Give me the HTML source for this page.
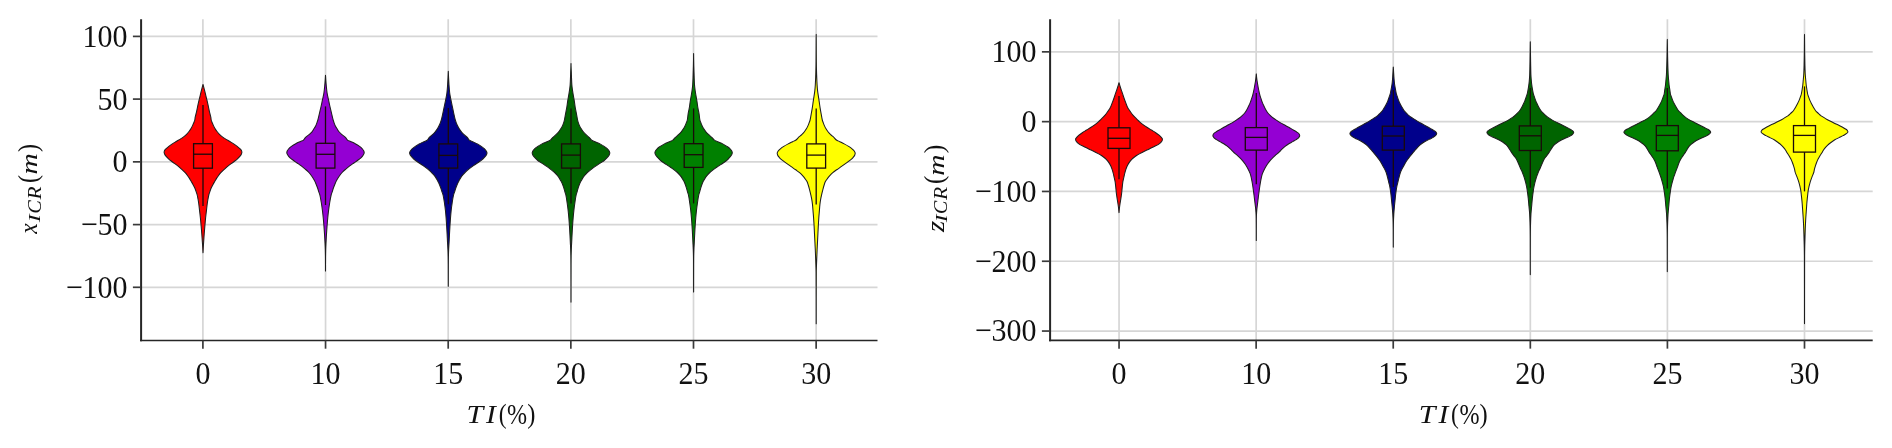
<!DOCTYPE html>
<html lang="en"><head><meta charset="utf-8"><title>ICR violin plots</title>
<style>html,body{margin:0;padding:0;background:#fff;overflow:hidden}svg{display:block;will-change:transform}.tk{font-family:"Liberation Serif","DejaVu Serif",serif;font-size:30px;fill:#111}.lb{font-family:"Liberation Serif","DejaVu Serif",serif;fill:#111}</style></head><body>
<svg width="1892" height="448" viewBox="0 0 1892 448">
<rect width="1892" height="448" fill="#ffffff"/>
<g stroke="#d6d6d6" stroke-width="1.7" fill="none">
<line x1="202.90" y1="19.20" x2="202.90" y2="340.50"/>
<line x1="325.55" y1="19.20" x2="325.55" y2="340.50"/>
<line x1="448.20" y1="19.20" x2="448.20" y2="340.50"/>
<line x1="570.85" y1="19.20" x2="570.85" y2="340.50"/>
<line x1="693.50" y1="19.20" x2="693.50" y2="340.50"/>
<line x1="816.15" y1="19.20" x2="816.15" y2="340.50"/>
<line x1="141.10" y1="36.40" x2="877.50" y2="36.40"/>
<line x1="141.10" y1="99.10" x2="877.50" y2="99.10"/>
<line x1="141.10" y1="161.85" x2="877.50" y2="161.85"/>
<line x1="141.10" y1="224.60" x2="877.50" y2="224.60"/>
<line x1="141.10" y1="287.30" x2="877.50" y2="287.30"/>
</g>
<path d="M203.00 84.50C202.73 85.47 202.46 86.43 202.20 87.40C201.89 88.57 201.59 89.73 201.30 90.90C200.85 92.70 200.44 94.50 200.00 96.30C199.71 97.50 199.39 98.70 199.10 99.90C198.61 101.97 198.15 104.03 197.70 106.10C197.25 108.20 196.87 110.30 196.40 112.40C196.00 114.17 195.39 115.93 195.10 117.70C194.97 118.47 194.95 119.23 194.80 120.00C194.64 120.82 194.22 121.63 193.90 122.45C193.51 123.43 193.10 124.42 192.65 125.40C192.21 126.37 191.75 127.33 191.20 128.30C190.63 129.30 189.94 130.30 189.20 131.30C188.49 132.27 187.74 133.23 186.80 134.20C185.83 135.20 184.67 136.20 183.30 137.20C182.21 138.00 180.72 138.80 179.40 139.60C178.35 140.23 177.25 140.87 176.20 141.50C174.88 142.30 173.50 143.10 172.30 143.90C171.05 144.73 169.88 145.57 168.80 146.40C167.76 147.20 166.64 148.00 165.90 148.80C165.29 149.47 164.60 150.13 164.40 150.80C164.25 151.30 164.10 151.80 164.10 152.30C164.10 152.93 164.43 153.57 164.70 154.20C165.05 155.03 165.72 155.87 166.40 156.70C167.05 157.50 167.91 158.30 168.80 159.10C169.88 160.07 171.23 161.03 172.50 162.00C174.21 163.30 176.19 164.60 177.80 165.90C179.21 167.03 180.47 168.17 181.70 169.30C182.93 170.43 184.18 171.57 185.20 172.70C186.10 173.70 186.86 174.70 187.60 175.70C188.32 176.67 189.00 177.63 189.60 178.60C190.22 179.60 190.71 180.60 191.30 181.60C191.75 182.37 192.27 183.13 192.70 183.90C193.43 185.20 194.14 186.50 194.70 187.80C195.28 189.13 195.75 190.47 196.20 191.80C196.56 192.87 196.94 193.93 197.20 195.00C197.53 196.33 197.76 197.67 198.00 199.00C198.24 200.33 198.46 201.67 198.65 203.00C199.00 205.53 199.25 208.07 199.55 210.60C199.84 213.07 200.15 215.53 200.40 218.00C200.68 220.75 200.91 223.50 201.15 226.25C201.38 228.83 201.60 231.42 201.80 234.00C202.00 236.63 202.17 239.27 202.35 241.90C202.49 243.93 202.63 245.97 202.75 248.00C202.84 249.60 202.93 251.20 203.00 252.80L203.00 252.80C203.07 251.20 203.16 249.60 203.25 248.00C203.37 245.97 203.51 243.93 203.65 241.90C203.83 239.27 204.00 236.63 204.20 234.00C204.40 231.42 204.62 228.83 204.85 226.25C205.09 223.50 205.32 220.75 205.60 218.00C205.85 215.53 206.16 213.07 206.45 210.60C206.75 208.07 207.00 205.53 207.35 203.00C207.54 201.67 207.76 200.33 208.00 199.00C208.24 197.67 208.47 196.33 208.80 195.00C209.06 193.93 209.44 192.87 209.80 191.80C210.25 190.47 210.72 189.13 211.30 187.80C211.86 186.50 212.57 185.20 213.30 183.90C213.73 183.13 214.25 182.37 214.70 181.60C215.29 180.60 215.78 179.60 216.40 178.60C217.00 177.63 217.68 176.67 218.40 175.70C219.14 174.70 219.90 173.70 220.80 172.70C221.82 171.57 223.07 170.43 224.30 169.30C225.53 168.17 226.79 167.03 228.20 165.90C229.81 164.60 231.79 163.30 233.50 162.00C234.77 161.03 236.12 160.07 237.20 159.10C238.09 158.30 238.95 157.50 239.60 156.70C240.28 155.87 240.95 155.03 241.30 154.20C241.57 153.57 241.90 152.93 241.90 152.30C241.90 151.80 241.75 151.30 241.60 150.80C241.40 150.13 240.71 149.47 240.10 148.80C239.36 148.00 238.24 147.20 237.20 146.40C236.12 145.57 234.95 144.73 233.70 143.90C232.50 143.10 231.12 142.30 229.80 141.50C228.75 140.87 227.65 140.23 226.60 139.60C225.28 138.80 223.79 138.00 222.70 137.20C221.33 136.20 220.17 135.20 219.20 134.20C218.26 133.23 217.51 132.27 216.80 131.30C216.06 130.30 215.37 129.30 214.80 128.30C214.25 127.33 213.79 126.37 213.35 125.40C212.90 124.42 212.49 123.43 212.10 122.45C211.78 121.63 211.36 120.82 211.20 120.00C211.05 119.23 211.03 118.47 210.90 117.70C210.61 115.93 210.00 114.17 209.60 112.40C209.13 110.30 208.75 108.20 208.30 106.10C207.85 104.03 207.39 101.97 206.90 99.90C206.61 98.70 206.29 97.50 206.00 96.30C205.56 94.50 205.15 92.70 204.70 90.90C204.41 89.73 204.11 88.57 203.80 87.40C203.54 86.43 203.27 85.47 203.00 84.50Z" fill="#ff0000" stroke="#1e1e1e" stroke-width="1.05" stroke-linejoin="round"/>
<g stroke="#1a0a0a" stroke-width="1.3" fill="none">
<line x1="203.00" y1="105.00" x2="203.00" y2="143.70"/>
<line x1="203.00" y1="168.20" x2="203.00" y2="206.00"/>
<rect x="193.60" y="143.70" width="18.80" height="24.50"/>
<line x1="193.60" y1="154.20" x2="212.40" y2="154.20"/>
</g>
<path d="M325.50 75.20C325.41 76.80 325.31 78.40 325.20 80.00C325.06 82.00 324.89 84.00 324.70 86.00C324.48 88.33 324.25 90.67 323.90 93.00C323.57 95.23 322.97 97.47 322.50 99.70C322.03 101.93 321.60 104.17 321.10 106.40C320.60 108.63 320.03 110.87 319.50 113.10C318.95 115.40 318.50 117.70 317.85 120.00C317.58 120.97 317.25 121.93 316.90 122.90C316.53 123.90 316.14 124.90 315.65 125.90C315.17 126.87 314.50 127.83 313.90 128.80C313.28 129.80 312.79 130.80 312.00 131.80C311.24 132.77 310.10 133.73 309.00 134.70C307.90 135.67 306.26 136.63 305.35 137.60C304.50 138.50 304.40 139.40 303.30 140.30C302.81 140.70 301.40 141.10 300.50 141.50C298.85 142.23 297.12 142.97 295.75 143.70C294.25 144.50 292.89 145.30 291.80 146.10C290.66 146.93 289.63 147.77 288.90 148.60C288.20 149.40 287.47 150.20 287.20 151.00C287.00 151.58 286.80 152.17 286.80 152.75C286.80 153.57 287.43 154.38 287.90 155.20C288.46 156.17 289.33 157.13 290.35 158.10C291.02 158.73 292.03 159.37 292.90 160.00C294.13 160.90 295.42 161.80 296.70 162.70C298.22 163.77 299.89 164.83 301.30 165.90C302.71 166.97 303.97 168.03 305.20 169.10C306.41 170.15 307.66 171.20 308.65 172.25C309.58 173.23 310.36 174.22 311.10 175.20C311.90 176.27 312.66 177.33 313.30 178.40C313.94 179.47 314.50 180.53 315.00 181.60C315.29 182.23 315.54 182.87 315.80 183.50C316.39 184.93 316.99 186.37 317.50 187.80C317.98 189.13 318.36 190.47 318.80 191.80C319.15 192.87 319.59 193.93 319.85 195.00C320.51 197.67 320.91 200.33 321.35 203.00C321.76 205.53 322.14 208.07 322.45 210.60C322.76 213.07 323.01 215.53 323.25 218.00C323.51 220.75 323.74 223.50 323.95 226.25C324.15 228.83 324.34 231.42 324.50 234.00C324.67 236.63 324.82 239.27 324.95 241.90C325.08 244.50 325.23 247.10 325.30 249.70C325.37 252.47 325.43 255.23 325.45 258.00C325.48 262.33 325.50 266.67 325.50 271.00L325.50 271.00C325.50 266.67 325.52 262.33 325.55 258.00C325.57 255.23 325.63 252.47 325.70 249.70C325.77 247.10 325.92 244.50 326.05 241.90C326.18 239.27 326.33 236.63 326.50 234.00C326.66 231.42 326.85 228.83 327.05 226.25C327.26 223.50 327.49 220.75 327.75 218.00C327.99 215.53 328.24 213.07 328.55 210.60C328.86 208.07 329.24 205.53 329.65 203.00C330.09 200.33 330.49 197.67 331.15 195.00C331.41 193.93 331.85 192.87 332.20 191.80C332.64 190.47 333.02 189.13 333.50 187.80C334.01 186.37 334.61 184.93 335.20 183.50C335.46 182.87 335.71 182.23 336.00 181.60C336.50 180.53 337.06 179.47 337.70 178.40C338.34 177.33 339.10 176.27 339.90 175.20C340.64 174.22 341.42 173.23 342.35 172.25C343.34 171.20 344.59 170.15 345.80 169.10C347.03 168.03 348.29 166.97 349.70 165.90C351.11 164.83 352.78 163.77 354.30 162.70C355.58 161.80 356.87 160.90 358.10 160.00C358.97 159.37 359.98 158.73 360.65 158.10C361.67 157.13 362.54 156.17 363.10 155.20C363.57 154.38 364.20 153.57 364.20 152.75C364.20 152.17 364.00 151.58 363.80 151.00C363.53 150.20 362.80 149.40 362.10 148.60C361.37 147.77 360.34 146.93 359.20 146.10C358.11 145.30 356.75 144.50 355.25 143.70C353.88 142.97 352.15 142.23 350.50 141.50C349.60 141.10 348.19 140.70 347.70 140.30C346.60 139.40 346.50 138.50 345.65 137.60C344.74 136.63 343.10 135.67 342.00 134.70C340.90 133.73 339.76 132.77 339.00 131.80C338.21 130.80 337.72 129.80 337.10 128.80C336.50 127.83 335.83 126.87 335.35 125.90C334.86 124.90 334.47 123.90 334.10 122.90C333.75 121.93 333.42 120.97 333.15 120.00C332.50 117.70 332.05 115.40 331.50 113.10C330.97 110.87 330.40 108.63 329.90 106.40C329.40 104.17 328.97 101.93 328.50 99.70C328.03 97.47 327.43 95.23 327.10 93.00C326.75 90.67 326.52 88.33 326.30 86.00C326.11 84.00 325.94 82.00 325.80 80.00C325.69 78.40 325.59 76.80 325.50 75.20Z" fill="#9400d3" stroke="#1e1e1e" stroke-width="1.05" stroke-linejoin="round"/>
<g stroke="#1a0a0a" stroke-width="1.3" fill="none">
<line x1="325.50" y1="106.40" x2="325.50" y2="143.30"/>
<line x1="325.50" y1="168.10" x2="325.50" y2="205.00"/>
<rect x="316.10" y="143.30" width="18.80" height="24.80"/>
<line x1="316.10" y1="154.30" x2="334.90" y2="154.30"/>
</g>
<path d="M448.30 71.20C448.21 73.47 448.11 75.73 448.00 78.00C447.88 80.33 447.76 82.67 447.60 85.00C447.42 87.67 447.22 90.33 446.90 93.00C446.63 95.23 446.13 97.47 445.70 99.70C445.27 101.93 444.77 104.17 444.30 106.40C443.83 108.63 443.39 110.87 442.90 113.10C442.39 115.40 441.96 117.70 441.30 120.00C441.02 120.97 440.67 121.93 440.30 122.90C439.89 123.97 439.43 125.03 438.90 126.10C438.41 127.10 437.84 128.10 437.20 129.10C436.62 130.00 435.94 130.90 435.20 131.80C434.40 132.77 433.50 133.73 432.50 134.70C431.50 135.67 429.94 136.63 429.10 137.60C428.35 138.47 428.26 139.33 427.30 140.20C426.75 140.70 425.10 141.20 424.00 141.70C422.39 142.43 420.54 143.17 419.20 143.90C417.68 144.73 416.50 145.57 415.30 146.40C414.15 147.20 412.88 148.00 412.10 148.80C411.29 149.63 410.59 150.47 410.20 151.30C409.93 151.87 409.60 152.43 409.60 153.00C409.60 153.73 410.03 154.47 410.40 155.20C410.80 156.00 411.66 156.80 412.40 157.60C413.17 158.43 413.99 159.27 415.00 160.10C415.95 160.88 417.25 161.67 418.40 162.45C419.84 163.43 421.39 164.42 422.80 165.40C424.33 166.47 425.86 167.53 427.20 168.60C428.54 169.67 429.80 170.73 430.90 171.80C431.90 172.77 432.79 173.73 433.60 174.70C434.41 175.67 435.17 176.63 435.80 177.60C436.45 178.60 436.96 179.60 437.50 180.60C438.02 181.57 438.56 182.53 439.00 183.50C439.65 184.93 440.19 186.37 440.70 187.80C441.18 189.13 441.56 190.47 442.00 191.80C442.35 192.87 442.80 193.93 443.05 195.00C443.69 197.67 444.05 200.33 444.45 203.00C444.83 205.53 445.18 208.07 445.45 210.60C445.71 213.07 445.91 215.53 446.10 218.00C446.31 220.75 446.48 223.50 446.65 226.25C446.81 228.83 446.96 231.42 447.10 234.00C447.24 236.63 447.36 239.27 447.50 241.90C447.64 244.50 447.84 247.10 447.95 249.70C448.05 252.13 448.14 254.57 448.18 257.00C448.22 259.67 448.25 262.33 448.26 265.00C448.29 272.10 448.30 279.20 448.30 286.30L448.30 286.30C448.30 279.20 448.31 272.10 448.34 265.00C448.35 262.33 448.38 259.67 448.42 257.00C448.46 254.57 448.55 252.13 448.65 249.70C448.76 247.10 448.96 244.50 449.10 241.90C449.24 239.27 449.36 236.63 449.50 234.00C449.64 231.42 449.79 228.83 449.95 226.25C450.12 223.50 450.29 220.75 450.50 218.00C450.69 215.53 450.89 213.07 451.15 210.60C451.42 208.07 451.77 205.53 452.15 203.00C452.55 200.33 452.91 197.67 453.55 195.00C453.80 193.93 454.25 192.87 454.60 191.80C455.04 190.47 455.42 189.13 455.90 187.80C456.41 186.37 456.95 184.93 457.60 183.50C458.04 182.53 458.58 181.57 459.10 180.60C459.64 179.60 460.15 178.60 460.80 177.60C461.43 176.63 462.19 175.67 463.00 174.70C463.81 173.73 464.70 172.77 465.70 171.80C466.80 170.73 468.06 169.67 469.40 168.60C470.74 167.53 472.27 166.47 473.80 165.40C475.21 164.42 476.76 163.43 478.20 162.45C479.35 161.67 480.65 160.88 481.60 160.10C482.61 159.27 483.43 158.43 484.20 157.60C484.94 156.80 485.80 156.00 486.20 155.20C486.57 154.47 487.00 153.73 487.00 153.00C487.00 152.43 486.67 151.87 486.40 151.30C486.01 150.47 485.31 149.63 484.50 148.80C483.72 148.00 482.45 147.20 481.30 146.40C480.10 145.57 478.92 144.73 477.40 143.90C476.06 143.17 474.21 142.43 472.60 141.70C471.50 141.20 469.85 140.70 469.30 140.20C468.34 139.33 468.25 138.47 467.50 137.60C466.66 136.63 465.10 135.67 464.10 134.70C463.10 133.73 462.20 132.77 461.40 131.80C460.66 130.90 459.98 130.00 459.40 129.10C458.76 128.10 458.19 127.10 457.70 126.10C457.17 125.03 456.71 123.97 456.30 122.90C455.93 121.93 455.58 120.97 455.30 120.00C454.64 117.70 454.21 115.40 453.70 113.10C453.21 110.87 452.77 108.63 452.30 106.40C451.83 104.17 451.33 101.93 450.90 99.70C450.47 97.47 449.97 95.23 449.70 93.00C449.38 90.33 449.18 87.67 449.00 85.00C448.84 82.67 448.72 80.33 448.60 78.00C448.49 75.73 448.39 73.47 448.30 71.20Z" fill="#00008b" stroke="#1e1e1e" stroke-width="1.05" stroke-linejoin="round"/>
<g stroke="#1a0a0a" stroke-width="1.3" fill="none">
<line x1="448.30" y1="108.00" x2="448.30" y2="143.90"/>
<line x1="448.30" y1="168.10" x2="448.30" y2="204.30"/>
<rect x="438.90" y="143.90" width="18.80" height="24.20"/>
<line x1="438.90" y1="155.40" x2="457.70" y2="155.40"/>
</g>
<path d="M571.00 63.50C570.99 65.00 570.95 66.50 570.90 68.00C570.86 69.33 570.76 70.67 570.70 72.00C570.62 73.77 570.57 75.53 570.50 77.30C570.40 79.77 570.32 82.23 570.15 84.70C570.01 86.77 569.69 88.83 569.40 90.90C569.15 92.70 568.80 94.50 568.50 96.30C568.20 98.07 567.87 99.83 567.60 101.60C567.27 103.70 567.05 105.80 566.70 107.90C566.36 109.97 565.89 112.03 565.50 114.10C565.13 116.07 564.85 118.03 564.40 120.00C564.18 120.97 563.92 121.93 563.60 122.90C563.27 123.90 562.87 124.90 562.40 125.90C561.95 126.87 561.35 127.83 560.75 128.80C560.13 129.80 559.49 130.80 558.70 131.80C557.94 132.77 557.00 133.73 556.00 134.70C555.00 135.67 553.55 136.63 552.60 137.60C551.75 138.47 551.51 139.33 550.40 140.20C549.76 140.70 548.13 141.20 547.00 141.70C545.34 142.43 543.42 143.17 542.00 143.90C540.38 144.73 539.04 145.57 537.80 146.40C536.61 147.20 535.38 148.00 534.60 148.80C533.79 149.63 533.04 150.47 532.70 151.30C532.47 151.87 532.20 152.43 532.20 153.00C532.20 153.73 532.56 154.47 532.90 155.20C533.27 156.00 534.17 156.80 534.90 157.60C535.78 158.57 536.63 159.53 537.80 160.50C538.77 161.30 540.19 162.10 541.40 162.90C543.02 163.97 544.75 165.03 546.30 166.10C547.85 167.17 549.30 168.23 550.70 169.30C551.99 170.28 553.36 171.27 554.40 172.25C555.44 173.23 556.28 174.22 557.10 175.20C557.90 176.17 558.67 177.13 559.30 178.10C559.95 179.10 560.47 180.10 561.00 181.10C561.42 181.90 561.85 182.70 562.20 183.50C562.82 184.93 563.35 186.37 563.80 187.80C564.22 189.13 564.52 190.47 564.90 191.80C565.20 192.87 565.62 193.93 565.85 195.00C566.43 197.67 566.76 200.33 567.15 203.00C567.52 205.53 567.87 208.07 568.15 210.60C568.42 213.07 568.65 215.53 568.85 218.00C569.08 220.75 569.27 223.50 569.45 226.25C569.62 228.83 569.76 231.42 569.90 234.00C570.04 236.63 570.17 239.27 570.30 241.90C570.43 244.50 570.61 247.10 570.70 249.70C570.79 252.13 570.87 254.57 570.90 257.00C570.93 259.67 570.95 262.33 570.96 265.00C570.99 277.37 571.00 289.73 571.00 302.10L571.00 302.10C571.00 289.73 571.01 277.37 571.04 265.00C571.05 262.33 571.07 259.67 571.10 257.00C571.13 254.57 571.21 252.13 571.30 249.70C571.39 247.10 571.57 244.50 571.70 241.90C571.83 239.27 571.96 236.63 572.10 234.00C572.24 231.42 572.38 228.83 572.55 226.25C572.73 223.50 572.92 220.75 573.15 218.00C573.35 215.53 573.58 213.07 573.85 210.60C574.13 208.07 574.48 205.53 574.85 203.00C575.24 200.33 575.57 197.67 576.15 195.00C576.38 193.93 576.80 192.87 577.10 191.80C577.48 190.47 577.78 189.13 578.20 187.80C578.65 186.37 579.18 184.93 579.80 183.50C580.15 182.70 580.58 181.90 581.00 181.10C581.53 180.10 582.05 179.10 582.70 178.10C583.33 177.13 584.10 176.17 584.90 175.20C585.72 174.22 586.56 173.23 587.60 172.25C588.64 171.27 590.01 170.28 591.30 169.30C592.70 168.23 594.15 167.17 595.70 166.10C597.25 165.03 598.98 163.97 600.60 162.90C601.81 162.10 603.23 161.30 604.20 160.50C605.37 159.53 606.22 158.57 607.10 157.60C607.83 156.80 608.73 156.00 609.10 155.20C609.44 154.47 609.80 153.73 609.80 153.00C609.80 152.43 609.53 151.87 609.30 151.30C608.96 150.47 608.21 149.63 607.40 148.80C606.62 148.00 605.39 147.20 604.20 146.40C602.96 145.57 601.62 144.73 600.00 143.90C598.58 143.17 596.66 142.43 595.00 141.70C593.87 141.20 592.24 140.70 591.60 140.20C590.49 139.33 590.25 138.47 589.40 137.60C588.45 136.63 587.00 135.67 586.00 134.70C585.00 133.73 584.06 132.77 583.30 131.80C582.51 130.80 581.87 129.80 581.25 128.80C580.65 127.83 580.05 126.87 579.60 125.90C579.13 124.90 578.73 123.90 578.40 122.90C578.08 121.93 577.82 120.97 577.60 120.00C577.15 118.03 576.87 116.07 576.50 114.10C576.11 112.03 575.64 109.97 575.30 107.90C574.95 105.80 574.73 103.70 574.40 101.60C574.13 99.83 573.80 98.07 573.50 96.30C573.20 94.50 572.85 92.70 572.60 90.90C572.31 88.83 571.99 86.77 571.85 84.70C571.68 82.23 571.60 79.77 571.50 77.30C571.43 75.53 571.38 73.77 571.30 72.00C571.24 70.67 571.14 69.33 571.10 68.00C571.05 66.50 571.01 65.00 571.00 63.50Z" fill="#006400" stroke="#1e1e1e" stroke-width="1.05" stroke-linejoin="round"/>
<g stroke="#1a0a0a" stroke-width="1.3" fill="none">
<line x1="571.00" y1="108.40" x2="571.00" y2="143.90"/>
<line x1="571.00" y1="168.10" x2="571.00" y2="203.60"/>
<rect x="561.60" y="143.90" width="18.80" height="24.20"/>
<line x1="561.60" y1="155.10" x2="580.40" y2="155.10"/>
</g>
<path d="M693.60 53.50C693.58 55.67 693.55 57.83 693.52 60.00C693.49 62.00 693.45 64.00 693.40 66.00C693.35 68.00 693.26 70.00 693.20 72.00C693.13 74.17 693.08 76.33 693.00 78.50C692.92 80.57 692.84 82.63 692.70 84.70C692.56 86.77 692.28 88.83 692.00 90.90C691.76 92.70 691.40 94.50 691.10 96.30C690.80 98.07 690.47 99.83 690.20 101.60C689.87 103.70 689.65 105.80 689.30 107.90C688.96 109.97 688.43 112.03 688.10 114.10C687.79 116.07 687.70 118.03 687.30 120.00C687.10 120.97 686.67 121.93 686.30 122.90C685.92 123.90 685.49 124.90 685.00 125.90C684.53 126.87 684.00 127.83 683.40 128.80C682.78 129.80 682.11 130.80 681.30 131.80C680.51 132.77 679.52 133.73 678.50 134.70C677.48 135.67 676.07 136.63 675.10 137.60C674.23 138.47 673.94 139.33 672.80 140.20C672.14 140.70 670.62 141.20 669.50 141.70C667.86 142.43 665.92 143.17 664.50 143.90C662.88 144.73 661.53 145.57 660.30 146.40C659.12 147.20 657.91 148.00 657.15 148.80C656.36 149.63 655.61 150.47 655.30 151.30C655.11 151.80 654.90 152.30 654.90 152.80C654.90 153.53 655.34 154.27 655.70 155.00C656.10 155.80 656.92 156.60 657.60 157.40C658.45 158.40 659.27 159.40 660.40 160.40C661.46 161.33 663.02 162.27 664.40 163.20C665.98 164.27 667.71 165.33 669.30 166.40C670.74 167.37 672.21 168.33 673.50 169.30C674.81 170.28 676.12 171.27 677.15 172.25C678.18 173.23 679.03 174.22 679.85 175.20C680.65 176.17 681.41 177.13 682.05 178.10C682.71 179.10 683.29 180.10 683.80 181.10C684.21 181.90 684.58 182.70 684.90 183.50C685.48 184.93 685.96 186.37 686.40 187.80C686.81 189.13 687.12 190.47 687.50 191.80C687.80 192.87 688.22 193.93 688.45 195.00C689.03 197.67 689.36 200.33 689.75 203.00C690.12 205.53 690.47 208.07 690.75 210.60C691.02 213.07 691.25 215.53 691.45 218.00C691.68 220.75 691.87 223.50 692.05 226.25C692.22 228.83 692.36 231.42 692.50 234.00C692.64 236.63 692.77 239.27 692.90 241.90C693.03 244.50 693.21 247.10 693.30 249.70C693.39 252.13 693.47 254.57 693.50 257.00C693.53 259.67 693.55 262.33 693.56 265.00C693.59 274.00 693.60 283.00 693.60 292.00L693.60 292.00C693.60 283.00 693.61 274.00 693.64 265.00C693.65 262.33 693.67 259.67 693.70 257.00C693.73 254.57 693.81 252.13 693.90 249.70C693.99 247.10 694.17 244.50 694.30 241.90C694.43 239.27 694.56 236.63 694.70 234.00C694.84 231.42 694.98 228.83 695.15 226.25C695.33 223.50 695.52 220.75 695.75 218.00C695.95 215.53 696.18 213.07 696.45 210.60C696.73 208.07 697.08 205.53 697.45 203.00C697.84 200.33 698.17 197.67 698.75 195.00C698.98 193.93 699.40 192.87 699.70 191.80C700.08 190.47 700.39 189.13 700.80 187.80C701.24 186.37 701.72 184.93 702.30 183.50C702.62 182.70 702.99 181.90 703.40 181.10C703.91 180.10 704.49 179.10 705.15 178.10C705.79 177.13 706.55 176.17 707.35 175.20C708.17 174.22 709.02 173.23 710.05 172.25C711.08 171.27 712.39 170.28 713.70 169.30C714.99 168.33 716.46 167.37 717.90 166.40C719.49 165.33 721.22 164.27 722.80 163.20C724.18 162.27 725.74 161.33 726.80 160.40C727.93 159.40 728.75 158.40 729.60 157.40C730.28 156.60 731.10 155.80 731.50 155.00C731.86 154.27 732.30 153.53 732.30 152.80C732.30 152.30 732.09 151.80 731.90 151.30C731.59 150.47 730.84 149.63 730.05 148.80C729.29 148.00 728.08 147.20 726.90 146.40C725.67 145.57 724.32 144.73 722.70 143.90C721.28 143.17 719.34 142.43 717.70 141.70C716.58 141.20 715.06 140.70 714.40 140.20C713.26 139.33 712.97 138.47 712.10 137.60C711.13 136.63 709.72 135.67 708.70 134.70C707.68 133.73 706.69 132.77 705.90 131.80C705.09 130.80 704.42 129.80 703.80 128.80C703.20 127.83 702.67 126.87 702.20 125.90C701.71 124.90 701.28 123.90 700.90 122.90C700.53 121.93 700.10 120.97 699.90 120.00C699.50 118.03 699.41 116.07 699.10 114.10C698.77 112.03 698.24 109.97 697.90 107.90C697.55 105.80 697.33 103.70 697.00 101.60C696.73 99.83 696.40 98.07 696.10 96.30C695.80 94.50 695.44 92.70 695.20 90.90C694.92 88.83 694.64 86.77 694.50 84.70C694.36 82.63 694.28 80.57 694.20 78.50C694.12 76.33 694.07 74.17 694.00 72.00C693.94 70.00 693.85 68.00 693.80 66.00C693.75 64.00 693.71 62.00 693.68 60.00C693.65 57.83 693.62 55.67 693.60 53.50Z" fill="#008000" stroke="#1e1e1e" stroke-width="1.05" stroke-linejoin="round"/>
<g stroke="#1a0a0a" stroke-width="1.3" fill="none">
<line x1="693.60" y1="108.40" x2="693.60" y2="143.70"/>
<line x1="693.60" y1="167.40" x2="693.60" y2="203.40"/>
<rect x="684.20" y="143.70" width="18.80" height="23.70"/>
<line x1="684.20" y1="154.70" x2="703.00" y2="154.70"/>
</g>
<path d="M816.20 34.40C816.18 37.93 816.17 41.47 816.15 45.00C816.13 48.33 816.12 51.67 816.10 55.00C816.08 58.67 816.05 62.33 816.00 66.00C815.97 68.00 815.91 70.00 815.85 72.00C815.81 73.43 815.76 74.87 815.70 76.30C815.59 79.20 815.48 82.10 815.30 85.00C815.18 86.97 815.01 88.93 814.80 90.90C814.61 92.70 814.27 94.50 814.00 96.30C813.74 98.07 813.46 99.83 813.20 101.60C812.89 103.70 812.63 105.80 812.30 107.90C811.97 109.97 811.58 112.03 811.20 114.10C810.84 116.07 810.59 118.03 810.10 120.00C809.86 120.97 809.46 121.93 809.10 122.90C808.73 123.90 808.35 124.90 807.90 125.90C807.46 126.87 806.96 127.83 806.40 128.80C805.82 129.80 805.17 130.80 804.40 131.80C803.65 132.77 802.75 133.73 801.75 134.70C800.75 135.67 799.32 136.63 798.30 137.60C797.45 138.40 797.06 139.20 796.00 140.00C795.25 140.57 793.73 141.13 792.60 141.70C791.13 142.43 789.57 143.17 788.20 143.90C786.64 144.73 785.11 145.57 783.80 146.40C782.55 147.20 781.34 148.00 780.40 148.80C779.54 149.53 778.66 150.27 778.20 151.00C777.74 151.73 777.20 152.47 777.20 153.20C777.20 153.87 777.46 154.53 777.70 155.20C777.99 156.00 778.71 156.80 779.40 157.60C780.12 158.43 781.19 159.27 782.20 160.10C783.33 161.03 784.63 161.97 785.90 162.90C787.48 164.07 789.14 165.23 790.80 166.40C792.41 167.53 794.12 168.67 795.70 169.80C797.04 170.77 798.49 171.73 799.60 172.70C800.75 173.70 801.69 174.70 802.60 175.70C803.48 176.67 804.29 177.63 805.00 178.60C805.74 179.60 806.52 180.60 807.00 181.60C807.54 182.73 807.89 183.87 808.25 185.00C808.77 186.63 809.18 188.27 809.60 189.90C810.02 191.53 810.44 193.17 810.80 194.80C811.16 196.43 811.53 198.07 811.80 199.70C812.07 201.33 812.33 202.97 812.50 204.60C812.71 206.60 812.84 208.60 813.00 210.60C813.20 213.07 813.43 215.53 813.60 218.00C813.79 220.67 813.95 223.33 814.10 226.00C814.25 228.67 814.37 231.33 814.50 234.00C814.63 236.67 814.77 239.33 814.90 242.00C815.03 244.67 815.18 247.33 815.30 250.00C815.41 252.50 815.50 255.00 815.60 257.50C815.70 260.00 815.82 262.50 815.90 265.00C815.98 267.33 816.09 269.67 816.10 272.00C816.18 289.27 816.20 306.53 816.20 323.80L816.20 323.80C816.20 306.53 816.22 289.27 816.30 272.00C816.31 269.67 816.42 267.33 816.50 265.00C816.58 262.50 816.70 260.00 816.80 257.50C816.90 255.00 816.99 252.50 817.10 250.00C817.22 247.33 817.37 244.67 817.50 242.00C817.63 239.33 817.77 236.67 817.90 234.00C818.03 231.33 818.15 228.67 818.30 226.00C818.45 223.33 818.61 220.67 818.80 218.00C818.97 215.53 819.20 213.07 819.40 210.60C819.56 208.60 819.69 206.60 819.90 204.60C820.07 202.97 820.33 201.33 820.60 199.70C820.87 198.07 821.24 196.43 821.60 194.80C821.96 193.17 822.38 191.53 822.80 189.90C823.22 188.27 823.63 186.63 824.15 185.00C824.51 183.87 824.86 182.73 825.40 181.60C825.88 180.60 826.66 179.60 827.40 178.60C828.11 177.63 828.92 176.67 829.80 175.70C830.71 174.70 831.65 173.70 832.80 172.70C833.91 171.73 835.36 170.77 836.70 169.80C838.28 168.67 839.99 167.53 841.60 166.40C843.26 165.23 844.92 164.07 846.50 162.90C847.77 161.97 849.07 161.03 850.20 160.10C851.21 159.27 852.28 158.43 853.00 157.60C853.69 156.80 854.41 156.00 854.70 155.20C854.94 154.53 855.20 153.87 855.20 153.20C855.20 152.47 854.66 151.73 854.20 151.00C853.74 150.27 852.86 149.53 852.00 148.80C851.06 148.00 849.85 147.20 848.60 146.40C847.29 145.57 845.76 144.73 844.20 143.90C842.83 143.17 841.27 142.43 839.80 141.70C838.67 141.13 837.15 140.57 836.40 140.00C835.34 139.20 834.95 138.40 834.10 137.60C833.08 136.63 831.65 135.67 830.65 134.70C829.65 133.73 828.75 132.77 828.00 131.80C827.23 130.80 826.58 129.80 826.00 128.80C825.44 127.83 824.94 126.87 824.50 125.90C824.05 124.90 823.67 123.90 823.30 122.90C822.94 121.93 822.54 120.97 822.30 120.00C821.81 118.03 821.56 116.07 821.20 114.10C820.82 112.03 820.43 109.97 820.10 107.90C819.77 105.80 819.51 103.70 819.20 101.60C818.94 99.83 818.66 98.07 818.40 96.30C818.13 94.50 817.79 92.70 817.60 90.90C817.39 88.93 817.22 86.97 817.10 85.00C816.92 82.10 816.81 79.20 816.70 76.30C816.64 74.87 816.59 73.43 816.55 72.00C816.49 70.00 816.43 68.00 816.40 66.00C816.35 62.33 816.32 58.67 816.30 55.00C816.28 51.67 816.27 48.33 816.25 45.00C816.23 41.47 816.22 37.93 816.20 34.40Z" fill="#ffff00" stroke="#1e1e1e" stroke-width="1.05" stroke-linejoin="round"/>
<g stroke="#1a0a0a" stroke-width="1.3" fill="none">
<line x1="816.20" y1="108.40" x2="816.20" y2="143.90"/>
<line x1="816.20" y1="168.10" x2="816.20" y2="204.50"/>
<rect x="806.80" y="143.90" width="18.80" height="24.20"/>
<line x1="806.80" y1="155.10" x2="825.60" y2="155.10"/>
</g>
<g stroke="#262626" fill="none">
<line stroke-width="2" x1="141.10" y1="19.20" x2="141.10" y2="341.35"/>
<line stroke-width="1.7" x1="140.10" y1="340.50" x2="877.50" y2="340.50"/>
</g>
<g stroke="#3a3a3a" stroke-width="1.7" fill="none">
<line x1="202.90" y1="340.50" x2="202.90" y2="348.70"/>
<line x1="325.55" y1="340.50" x2="325.55" y2="348.70"/>
<line x1="448.20" y1="340.50" x2="448.20" y2="348.70"/>
<line x1="570.85" y1="340.50" x2="570.85" y2="348.70"/>
<line x1="693.50" y1="340.50" x2="693.50" y2="348.70"/>
<line x1="816.15" y1="340.50" x2="816.15" y2="348.70"/>
<line x1="132.90" y1="36.40" x2="141.10" y2="36.40"/>
<line x1="132.90" y1="99.10" x2="141.10" y2="99.10"/>
<line x1="132.90" y1="161.85" x2="141.10" y2="161.85"/>
<line x1="132.90" y1="224.60" x2="141.10" y2="224.60"/>
<line x1="132.90" y1="287.30" x2="141.10" y2="287.30"/>
</g>
<text class="tk" transform="translate(202.90 384) scale(1 1.080)" text-anchor="middle">0</text>
<text class="tk" transform="translate(325.55 384) scale(1 1.080)" text-anchor="middle">10</text>
<text class="tk" transform="translate(448.20 384) scale(1 1.080)" text-anchor="middle">15</text>
<text class="tk" transform="translate(570.85 384) scale(1 1.080)" text-anchor="middle">20</text>
<text class="tk" transform="translate(693.50 384) scale(1 1.080)" text-anchor="middle">25</text>
<text class="tk" transform="translate(816.15 384) scale(1 1.080)" text-anchor="middle">30</text>
<text class="tk" transform="translate(127.60 46.80) scale(1 1.080)" text-anchor="end">100</text>
<text class="tk" transform="translate(127.60 109.50) scale(1 1.080)" text-anchor="end">50</text>
<text class="tk" transform="translate(127.60 172.25) scale(1 1.080)" text-anchor="end">0</text>
<text class="tk" transform="translate(127.60 235.00) scale(1 1.080)" text-anchor="end">−50</text>
<text class="tk" transform="translate(127.60 297.70) scale(1 1.080)" text-anchor="end">−100</text>
<g aria-label="TI(%)"><text class="lb" transform="translate(466.44 422.60) scale(1.177 1)" font-size="25.50px" font-style="italic">T</text><text class="lb" transform="translate(486.12 422.60) scale(1.158 1)" font-size="25.50px" font-style="italic">I</text><text class="lb" transform="translate(498.71 423.05) scale(0.858 1)" font-size="27.46px">(</text><text class="lb" transform="translate(507.08 423.72) scale(0.846 1)" font-size="28.46px">%</text><text class="lb" transform="translate(527.21 423.05) scale(0.893 1)" font-size="27.46px">)</text></g>
<g aria-label="xICR(m)"><text class="lb" transform="translate(37.30 233.81) rotate(-90) scale(0.977 1)" font-size="24.18px" font-style="italic">x</text><text class="lb" transform="translate(40.10 222.31) rotate(-90) scale(1.396 1)" font-size="16.95px" font-style="italic">I</text><text class="lb" transform="translate(40.53 213.40) rotate(-90) scale(1.082 1)" font-size="18.32px" font-style="italic">C</text><text class="lb" transform="translate(40.70 199.39) rotate(-90) scale(1.170 1)" font-size="18.25px" font-style="italic">R</text><text class="lb" transform="translate(37.15 182.96) rotate(-90) scale(0.893 1)" font-size="27.02px">(</text><text class="lb" transform="translate(37.30 174.57) rotate(-90) scale(1.252 1)" font-size="23.56px" font-style="italic">m</text><text class="lb" transform="translate(37.15 151.98) rotate(-90) scale(0.893 1)" font-size="27.02px">)</text></g>
<g stroke="#d6d6d6" stroke-width="1.7" fill="none">
<line x1="1119.05" y1="19.20" x2="1119.05" y2="340.45"/>
<line x1="1256.14" y1="19.20" x2="1256.14" y2="340.45"/>
<line x1="1393.23" y1="19.20" x2="1393.23" y2="340.45"/>
<line x1="1530.32" y1="19.20" x2="1530.32" y2="340.45"/>
<line x1="1667.41" y1="19.20" x2="1667.41" y2="340.45"/>
<line x1="1804.50" y1="19.20" x2="1804.50" y2="340.45"/>
<line x1="1050.10" y1="51.85" x2="1872.70" y2="51.85"/>
<line x1="1050.10" y1="121.65" x2="1872.70" y2="121.65"/>
<line x1="1050.10" y1="191.45" x2="1872.70" y2="191.45"/>
<line x1="1050.10" y1="261.25" x2="1872.70" y2="261.25"/>
<line x1="1050.10" y1="331.05" x2="1872.70" y2="331.05"/>
</g>
<path d="M1119.00 82.70C1118.80 83.37 1118.60 84.03 1118.40 84.70C1118.07 85.80 1117.76 86.90 1117.40 88.00C1117.03 89.13 1116.58 90.27 1116.20 91.40C1115.68 92.93 1115.22 94.47 1114.70 96.00C1114.25 97.33 1113.79 98.67 1113.30 100.00C1112.89 101.13 1112.44 102.27 1112.00 103.40C1111.54 104.57 1111.16 105.73 1110.60 106.90C1110.06 108.03 1109.33 109.17 1108.60 110.30C1107.87 111.43 1107.08 112.57 1106.20 113.70C1105.30 114.87 1104.28 116.03 1103.20 117.20C1102.46 118.00 1101.62 118.80 1100.80 119.60C1100.02 120.37 1099.27 121.13 1098.40 121.90C1097.38 122.80 1096.21 123.70 1095.00 124.60C1093.79 125.50 1092.48 126.40 1091.10 127.30C1089.72 128.20 1088.17 129.10 1086.70 130.00C1085.23 130.90 1083.63 131.80 1082.30 132.70C1081.07 133.53 1079.86 134.37 1078.90 135.20C1078.06 135.93 1077.29 136.67 1076.70 137.40C1076.27 137.93 1075.60 138.47 1075.60 139.00C1075.60 139.50 1075.69 140.00 1075.80 140.50C1075.92 141.03 1076.44 141.57 1076.90 142.10C1077.61 142.93 1078.62 143.77 1079.90 144.60C1080.87 145.23 1082.53 145.87 1083.80 146.50C1085.47 147.33 1086.96 148.17 1088.70 149.00C1090.23 149.73 1092.09 150.47 1093.60 151.20C1095.25 152.00 1096.77 152.80 1098.20 153.60C1099.33 154.23 1100.44 154.87 1101.40 155.50C1102.16 156.00 1102.87 156.50 1103.50 157.00C1104.52 157.80 1105.48 158.60 1106.25 159.40C1107.20 160.38 1108.03 161.37 1108.70 162.35C1109.49 163.50 1110.17 164.65 1110.70 165.80C1111.30 167.10 1111.77 168.40 1112.20 169.70C1112.58 170.83 1112.91 171.97 1113.20 173.10C1113.50 174.27 1113.74 175.43 1114.00 176.60C1114.39 178.37 1114.89 180.13 1115.15 181.90C1115.48 184.13 1115.66 186.37 1115.90 188.60C1116.09 190.40 1116.23 192.20 1116.45 194.00C1116.69 196.00 1117.04 198.00 1117.35 200.00C1117.56 201.33 1117.80 202.67 1118.00 204.00C1118.22 205.50 1118.43 207.00 1118.60 208.50C1118.75 209.87 1118.89 211.23 1119.00 212.60L1119.00 212.60C1119.11 211.23 1119.25 209.87 1119.40 208.50C1119.57 207.00 1119.78 205.50 1120.00 204.00C1120.20 202.67 1120.44 201.33 1120.65 200.00C1120.96 198.00 1121.31 196.00 1121.55 194.00C1121.77 192.20 1121.91 190.40 1122.10 188.60C1122.34 186.37 1122.52 184.13 1122.85 181.90C1123.11 180.13 1123.61 178.37 1124.00 176.60C1124.26 175.43 1124.50 174.27 1124.80 173.10C1125.09 171.97 1125.42 170.83 1125.80 169.70C1126.23 168.40 1126.70 167.10 1127.30 165.80C1127.83 164.65 1128.51 163.50 1129.30 162.35C1129.97 161.37 1130.80 160.38 1131.75 159.40C1132.52 158.60 1133.48 157.80 1134.50 157.00C1135.13 156.50 1135.84 156.00 1136.60 155.50C1137.56 154.87 1138.67 154.23 1139.80 153.60C1141.23 152.80 1142.75 152.00 1144.40 151.20C1145.91 150.47 1147.77 149.73 1149.30 149.00C1151.04 148.17 1152.53 147.33 1154.20 146.50C1155.47 145.87 1157.13 145.23 1158.10 144.60C1159.38 143.77 1160.39 142.93 1161.10 142.10C1161.56 141.57 1162.08 141.03 1162.20 140.50C1162.31 140.00 1162.40 139.50 1162.40 139.00C1162.40 138.47 1161.73 137.93 1161.30 137.40C1160.71 136.67 1159.94 135.93 1159.10 135.20C1158.14 134.37 1156.93 133.53 1155.70 132.70C1154.37 131.80 1152.77 130.90 1151.30 130.00C1149.83 129.10 1148.28 128.20 1146.90 127.30C1145.52 126.40 1144.21 125.50 1143.00 124.60C1141.79 123.70 1140.62 122.80 1139.60 121.90C1138.73 121.13 1137.98 120.37 1137.20 119.60C1136.38 118.80 1135.54 118.00 1134.80 117.20C1133.72 116.03 1132.70 114.87 1131.80 113.70C1130.92 112.57 1130.13 111.43 1129.40 110.30C1128.67 109.17 1127.94 108.03 1127.40 106.90C1126.84 105.73 1126.46 104.57 1126.00 103.40C1125.56 102.27 1125.11 101.13 1124.70 100.00C1124.21 98.67 1123.75 97.33 1123.30 96.00C1122.78 94.47 1122.32 92.93 1121.80 91.40C1121.42 90.27 1120.97 89.13 1120.60 88.00C1120.24 86.90 1119.93 85.80 1119.60 84.70C1119.40 84.03 1119.20 83.37 1119.00 82.70Z" fill="#ff0000" stroke="#1e1e1e" stroke-width="1.05" stroke-linejoin="round"/>
<g stroke="#1a0a0a" stroke-width="1.3" fill="none">
<line x1="1119.00" y1="96.10" x2="1119.00" y2="127.80"/>
<line x1="1119.00" y1="148.40" x2="1119.00" y2="179.20"/>
<rect x="1108.00" y="127.80" width="22.00" height="20.60"/>
<line x1="1108.00" y1="138.30" x2="1130.00" y2="138.30"/>
</g>
<path d="M1256.30 73.90C1256.19 75.27 1256.06 76.63 1255.90 78.00C1255.79 79.00 1255.65 80.00 1255.50 81.00C1255.32 82.23 1255.11 83.47 1254.90 84.70C1254.71 85.80 1254.51 86.90 1254.30 88.00C1254.08 89.13 1253.85 90.27 1253.60 91.40C1253.26 92.93 1252.94 94.47 1252.50 96.00C1252.22 96.97 1251.83 97.93 1251.50 98.90C1251.10 100.07 1250.75 101.23 1250.30 102.40C1249.86 103.53 1249.33 104.67 1248.80 105.80C1248.27 106.93 1247.73 108.07 1247.10 109.20C1246.45 110.37 1245.78 111.53 1244.90 112.70C1244.17 113.67 1243.20 114.63 1242.20 115.60C1241.37 116.40 1240.45 117.20 1239.40 118.00C1238.26 118.87 1236.83 119.73 1235.50 120.60C1234.22 121.43 1232.97 122.27 1231.55 123.10C1230.18 123.90 1228.54 124.70 1227.10 125.50C1225.59 126.33 1224.17 127.17 1222.70 128.00C1221.40 128.73 1220.04 129.47 1218.80 130.20C1217.72 130.83 1216.56 131.47 1215.70 132.10C1214.84 132.73 1213.84 133.37 1213.50 134.00C1213.20 134.57 1212.90 135.13 1212.90 135.70C1212.90 136.33 1213.43 136.97 1213.90 137.60C1214.39 138.27 1215.44 138.93 1216.40 139.60C1217.36 140.27 1218.64 140.93 1219.80 141.60C1221.08 142.33 1222.58 143.07 1223.75 143.80C1225.03 144.60 1226.18 145.40 1227.20 146.20C1228.47 147.20 1229.54 148.20 1230.60 149.20C1231.63 150.17 1232.46 151.13 1233.50 152.10C1234.34 152.88 1235.31 153.67 1236.20 154.45C1237.39 155.50 1238.63 156.55 1239.70 157.60C1240.78 158.67 1241.81 159.73 1242.70 160.80C1243.59 161.87 1244.37 162.93 1245.10 164.00C1245.83 165.07 1246.51 166.13 1247.10 167.20C1247.73 168.33 1248.25 169.47 1248.80 170.60C1249.28 171.60 1249.85 172.60 1250.20 173.60C1250.58 174.70 1250.85 175.80 1251.10 176.90C1251.45 178.43 1251.72 179.97 1252.00 181.50C1252.27 183.00 1252.52 184.50 1252.75 186.00C1253.00 187.63 1253.23 189.27 1253.45 190.90C1253.67 192.53 1253.89 194.17 1254.10 195.80C1254.31 197.43 1254.50 199.07 1254.70 200.70C1254.90 202.33 1255.10 203.97 1255.30 205.60C1255.40 206.40 1255.52 207.20 1255.60 208.00C1255.74 209.33 1255.86 210.67 1255.95 212.00C1256.04 213.33 1256.15 214.67 1256.18 216.00C1256.23 218.00 1256.25 220.00 1256.26 222.00C1256.29 228.13 1256.30 234.27 1256.30 240.40L1256.30 240.40C1256.30 234.27 1256.31 228.13 1256.34 222.00C1256.35 220.00 1256.37 218.00 1256.42 216.00C1256.45 214.67 1256.56 213.33 1256.65 212.00C1256.74 210.67 1256.86 209.33 1257.00 208.00C1257.08 207.20 1257.20 206.40 1257.30 205.60C1257.50 203.97 1257.70 202.33 1257.90 200.70C1258.10 199.07 1258.29 197.43 1258.50 195.80C1258.71 194.17 1258.93 192.53 1259.15 190.90C1259.37 189.27 1259.60 187.63 1259.85 186.00C1260.08 184.50 1260.33 183.00 1260.60 181.50C1260.88 179.97 1261.15 178.43 1261.50 176.90C1261.75 175.80 1262.02 174.70 1262.40 173.60C1262.75 172.60 1263.32 171.60 1263.80 170.60C1264.35 169.47 1264.87 168.33 1265.50 167.20C1266.09 166.13 1266.77 165.07 1267.50 164.00C1268.23 162.93 1269.01 161.87 1269.90 160.80C1270.79 159.73 1271.82 158.67 1272.90 157.60C1273.97 156.55 1275.21 155.50 1276.40 154.45C1277.29 153.67 1278.26 152.88 1279.10 152.10C1280.14 151.13 1280.97 150.17 1282.00 149.20C1283.06 148.20 1284.13 147.20 1285.40 146.20C1286.42 145.40 1287.57 144.60 1288.85 143.80C1290.02 143.07 1291.52 142.33 1292.80 141.60C1293.96 140.93 1295.24 140.27 1296.20 139.60C1297.16 138.93 1298.21 138.27 1298.70 137.60C1299.17 136.97 1299.70 136.33 1299.70 135.70C1299.70 135.13 1299.40 134.57 1299.10 134.00C1298.76 133.37 1297.76 132.73 1296.90 132.10C1296.04 131.47 1294.88 130.83 1293.80 130.20C1292.56 129.47 1291.20 128.73 1289.90 128.00C1288.43 127.17 1287.01 126.33 1285.50 125.50C1284.06 124.70 1282.42 123.90 1281.05 123.10C1279.63 122.27 1278.38 121.43 1277.10 120.60C1275.77 119.73 1274.34 118.87 1273.20 118.00C1272.15 117.20 1271.23 116.40 1270.40 115.60C1269.40 114.63 1268.43 113.67 1267.70 112.70C1266.82 111.53 1266.15 110.37 1265.50 109.20C1264.87 108.07 1264.33 106.93 1263.80 105.80C1263.27 104.67 1262.74 103.53 1262.30 102.40C1261.85 101.23 1261.50 100.07 1261.10 98.90C1260.77 97.93 1260.38 96.97 1260.10 96.00C1259.66 94.47 1259.34 92.93 1259.00 91.40C1258.75 90.27 1258.52 89.13 1258.30 88.00C1258.09 86.90 1257.89 85.80 1257.70 84.70C1257.49 83.47 1257.28 82.23 1257.10 81.00C1256.95 80.00 1256.81 79.00 1256.70 78.00C1256.54 76.63 1256.41 75.27 1256.30 73.90Z" fill="#9400d3" stroke="#1e1e1e" stroke-width="1.05" stroke-linejoin="round"/>
<g stroke="#1a0a0a" stroke-width="1.3" fill="none">
<line x1="1256.30" y1="93.00" x2="1256.30" y2="127.60"/>
<line x1="1256.30" y1="150.10" x2="1256.30" y2="184.20"/>
<rect x="1245.30" y="127.60" width="22.00" height="22.50"/>
<line x1="1245.30" y1="137.40" x2="1267.30" y2="137.40"/>
</g>
<path d="M1393.30 67.00C1393.20 68.67 1393.10 70.33 1393.00 72.00C1392.90 73.67 1392.82 75.33 1392.70 77.00C1392.59 78.57 1392.46 80.13 1392.30 81.70C1392.19 82.80 1392.06 83.90 1391.90 85.00C1391.74 86.13 1391.51 87.27 1391.30 88.40C1391.14 89.27 1390.97 90.13 1390.80 91.00C1390.60 92.00 1390.45 93.00 1390.20 94.00C1389.95 94.97 1389.53 95.93 1389.20 96.90C1388.80 98.07 1388.45 99.23 1388.00 100.40C1387.56 101.53 1387.06 102.67 1386.50 103.80C1385.94 104.93 1385.27 106.07 1384.60 107.20C1383.91 108.37 1383.28 109.53 1382.40 110.70C1381.67 111.67 1380.63 112.63 1379.70 113.60C1379.06 114.27 1378.47 114.93 1377.70 115.60C1377.20 116.03 1376.57 116.47 1375.95 116.90C1374.89 117.63 1373.65 118.37 1372.50 119.10C1371.19 119.93 1369.95 120.77 1368.55 121.60C1367.32 122.33 1365.93 123.07 1364.60 123.80C1363.15 124.60 1361.64 125.40 1360.20 126.20C1358.88 126.93 1357.57 127.67 1356.30 128.40C1355.14 129.07 1353.92 129.73 1352.90 130.40C1352.14 130.90 1351.22 131.40 1350.80 131.90C1350.38 132.40 1349.90 132.90 1349.90 133.40C1349.90 134.07 1350.42 134.73 1350.90 135.40C1351.37 136.05 1352.39 136.70 1353.40 137.35C1354.30 137.93 1355.63 138.52 1356.80 139.10C1358.07 139.73 1359.61 140.37 1360.75 141.00C1362.26 141.83 1363.57 142.67 1364.70 143.50C1366.01 144.47 1367.11 145.43 1368.10 146.40C1369.12 147.40 1369.92 148.40 1370.80 149.40C1371.45 150.13 1372.07 150.87 1372.70 151.60C1373.07 152.03 1373.44 152.47 1373.80 152.90C1374.78 154.07 1375.79 155.23 1376.70 156.40C1377.58 157.53 1378.42 158.67 1379.20 159.80C1379.98 160.93 1380.73 162.07 1381.40 163.20C1382.09 164.37 1382.67 165.53 1383.30 166.70C1383.91 167.83 1384.54 168.97 1385.10 170.10C1385.42 170.73 1385.76 171.37 1386.00 172.00C1386.39 173.00 1386.67 174.00 1386.95 175.00C1387.28 176.17 1387.56 177.33 1387.85 178.50C1388.20 179.93 1388.51 181.37 1388.85 182.80C1389.14 184.03 1389.50 185.27 1389.75 186.50C1390.03 187.87 1390.25 189.23 1390.45 190.60C1390.64 191.90 1390.80 193.20 1390.95 194.50C1391.10 195.80 1391.22 197.10 1391.35 198.40C1391.62 201.02 1391.91 203.63 1392.15 206.25C1392.39 208.83 1392.65 211.42 1392.80 214.00C1392.95 216.67 1393.09 219.33 1393.15 222.00C1393.21 224.67 1393.25 227.33 1393.26 230.00C1393.28 235.70 1393.30 241.40 1393.30 247.10L1393.30 247.10C1393.30 241.40 1393.32 235.70 1393.34 230.00C1393.35 227.33 1393.39 224.67 1393.45 222.00C1393.51 219.33 1393.65 216.67 1393.80 214.00C1393.95 211.42 1394.21 208.83 1394.45 206.25C1394.69 203.63 1394.98 201.02 1395.25 198.40C1395.38 197.10 1395.50 195.80 1395.65 194.50C1395.80 193.20 1395.96 191.90 1396.15 190.60C1396.35 189.23 1396.57 187.87 1396.85 186.50C1397.10 185.27 1397.46 184.03 1397.75 182.80C1398.09 181.37 1398.40 179.93 1398.75 178.50C1399.04 177.33 1399.32 176.17 1399.65 175.00C1399.93 174.00 1400.21 173.00 1400.60 172.00C1400.84 171.37 1401.18 170.73 1401.50 170.10C1402.06 168.97 1402.69 167.83 1403.30 166.70C1403.93 165.53 1404.51 164.37 1405.20 163.20C1405.87 162.07 1406.62 160.93 1407.40 159.80C1408.18 158.67 1409.02 157.53 1409.90 156.40C1410.81 155.23 1411.82 154.07 1412.80 152.90C1413.16 152.47 1413.53 152.03 1413.90 151.60C1414.53 150.87 1415.15 150.13 1415.80 149.40C1416.68 148.40 1417.48 147.40 1418.50 146.40C1419.49 145.43 1420.59 144.47 1421.90 143.50C1423.03 142.67 1424.34 141.83 1425.85 141.00C1426.99 140.37 1428.53 139.73 1429.80 139.10C1430.97 138.52 1432.30 137.93 1433.20 137.35C1434.21 136.70 1435.23 136.05 1435.70 135.40C1436.18 134.73 1436.70 134.07 1436.70 133.40C1436.70 132.90 1436.22 132.40 1435.80 131.90C1435.38 131.40 1434.46 130.90 1433.70 130.40C1432.68 129.73 1431.46 129.07 1430.30 128.40C1429.03 127.67 1427.72 126.93 1426.40 126.20C1424.96 125.40 1423.45 124.60 1422.00 123.80C1420.67 123.07 1419.28 122.33 1418.05 121.60C1416.65 120.77 1415.41 119.93 1414.10 119.10C1412.95 118.37 1411.71 117.63 1410.65 116.90C1410.03 116.47 1409.40 116.03 1408.90 115.60C1408.13 114.93 1407.54 114.27 1406.90 113.60C1405.97 112.63 1404.93 111.67 1404.20 110.70C1403.32 109.53 1402.69 108.37 1402.00 107.20C1401.33 106.07 1400.66 104.93 1400.10 103.80C1399.54 102.67 1399.04 101.53 1398.60 100.40C1398.15 99.23 1397.80 98.07 1397.40 96.90C1397.07 95.93 1396.65 94.97 1396.40 94.00C1396.15 93.00 1396.00 92.00 1395.80 91.00C1395.63 90.13 1395.46 89.27 1395.30 88.40C1395.09 87.27 1394.86 86.13 1394.70 85.00C1394.54 83.90 1394.41 82.80 1394.30 81.70C1394.14 80.13 1394.01 78.57 1393.90 77.00C1393.78 75.33 1393.70 73.67 1393.60 72.00C1393.50 70.33 1393.40 68.67 1393.30 67.00Z" fill="#00008b" stroke="#1e1e1e" stroke-width="1.05" stroke-linejoin="round"/>
<g stroke="#1a0a0a" stroke-width="1.3" fill="none">
<line x1="1393.30" y1="90.00" x2="1393.30" y2="126.20"/>
<line x1="1393.30" y1="150.10" x2="1393.30" y2="187.00"/>
<rect x="1382.30" y="126.20" width="22.00" height="23.90"/>
<line x1="1382.30" y1="136.00" x2="1404.30" y2="136.00"/>
</g>
<path d="M1530.30 41.70C1530.25 45.13 1530.20 48.57 1530.15 52.00C1530.10 55.27 1530.05 58.53 1530.00 61.80C1529.95 64.53 1529.91 67.27 1529.85 70.00C1529.81 71.67 1529.77 73.33 1529.70 75.00C1529.61 77.23 1529.41 79.47 1529.20 81.70C1529.10 82.80 1528.95 83.90 1528.80 85.00C1528.65 86.13 1528.49 87.27 1528.30 88.40C1528.15 89.27 1527.97 90.13 1527.80 91.00C1527.60 92.00 1527.45 93.00 1527.20 94.00C1526.95 94.97 1526.53 95.93 1526.20 96.90C1525.80 98.07 1525.45 99.23 1525.00 100.40C1524.56 101.53 1524.03 102.67 1523.50 103.80C1522.97 104.93 1522.43 106.07 1521.80 107.20C1521.15 108.37 1520.48 109.53 1519.60 110.70C1518.87 111.67 1517.86 112.63 1516.90 113.60C1516.24 114.27 1515.55 114.93 1514.80 115.60C1514.22 116.12 1513.64 116.63 1512.95 117.15C1511.96 117.88 1510.71 118.62 1509.50 119.35C1508.26 120.10 1506.96 120.85 1505.55 121.60C1504.17 122.33 1502.57 123.07 1501.10 123.80C1499.63 124.53 1498.19 125.27 1496.70 126.00C1495.42 126.63 1494.02 127.27 1492.80 127.90C1491.78 128.43 1490.76 128.97 1489.90 129.50C1489.09 130.00 1488.11 130.50 1487.70 131.00C1487.32 131.47 1486.90 131.93 1486.90 132.40C1486.90 132.98 1487.43 133.57 1487.90 134.15C1488.42 134.80 1489.49 135.45 1490.60 136.10C1491.56 136.67 1493.06 137.23 1494.30 137.80C1495.76 138.47 1497.38 139.13 1498.70 139.80C1500.15 140.53 1501.55 141.27 1502.65 142.00C1504.00 142.90 1505.19 143.80 1506.10 144.70C1507.07 145.67 1507.81 146.63 1508.50 147.60C1509.07 148.40 1509.50 149.20 1510.00 150.00C1510.50 150.80 1510.97 151.60 1511.50 152.40C1512.27 153.57 1513.14 154.73 1514.00 155.90C1514.71 156.87 1515.61 157.83 1516.20 158.80C1516.89 159.93 1517.38 161.07 1517.90 162.20C1518.44 163.37 1518.91 164.53 1519.40 165.70C1519.88 166.83 1520.27 167.97 1520.80 169.10C1521.10 169.73 1521.51 170.37 1521.80 171.00C1522.41 172.33 1522.87 173.67 1523.35 175.00C1523.77 176.17 1524.19 177.33 1524.55 178.50C1524.99 179.93 1525.40 181.37 1525.75 182.80C1526.05 184.03 1526.31 185.27 1526.55 186.50C1526.81 187.87 1527.05 189.23 1527.25 190.60C1527.64 193.20 1527.98 195.80 1528.25 198.40C1528.53 201.02 1528.72 203.63 1528.95 206.25C1529.18 208.83 1529.50 211.42 1529.65 214.00C1529.81 216.63 1529.92 219.27 1530.00 221.90C1530.09 224.60 1530.17 227.30 1530.20 230.00C1530.23 232.67 1530.25 235.33 1530.26 238.00C1530.29 250.20 1530.30 262.40 1530.30 274.60L1530.30 274.60C1530.30 262.40 1530.31 250.20 1530.34 238.00C1530.35 235.33 1530.37 232.67 1530.40 230.00C1530.43 227.30 1530.51 224.60 1530.60 221.90C1530.68 219.27 1530.79 216.63 1530.95 214.00C1531.10 211.42 1531.42 208.83 1531.65 206.25C1531.88 203.63 1532.07 201.02 1532.35 198.40C1532.62 195.80 1532.96 193.20 1533.35 190.60C1533.55 189.23 1533.79 187.87 1534.05 186.50C1534.29 185.27 1534.55 184.03 1534.85 182.80C1535.20 181.37 1535.61 179.93 1536.05 178.50C1536.41 177.33 1536.83 176.17 1537.25 175.00C1537.73 173.67 1538.19 172.33 1538.80 171.00C1539.09 170.37 1539.50 169.73 1539.80 169.10C1540.33 167.97 1540.72 166.83 1541.20 165.70C1541.69 164.53 1542.16 163.37 1542.70 162.20C1543.22 161.07 1543.71 159.93 1544.40 158.80C1544.99 157.83 1545.89 156.87 1546.60 155.90C1547.46 154.73 1548.33 153.57 1549.10 152.40C1549.63 151.60 1550.10 150.80 1550.60 150.00C1551.10 149.20 1551.53 148.40 1552.10 147.60C1552.79 146.63 1553.53 145.67 1554.50 144.70C1555.41 143.80 1556.60 142.90 1557.95 142.00C1559.05 141.27 1560.45 140.53 1561.90 139.80C1563.22 139.13 1564.84 138.47 1566.30 137.80C1567.54 137.23 1569.04 136.67 1570.00 136.10C1571.11 135.45 1572.18 134.80 1572.70 134.15C1573.17 133.57 1573.70 132.98 1573.70 132.40C1573.70 131.93 1573.28 131.47 1572.90 131.00C1572.49 130.50 1571.51 130.00 1570.70 129.50C1569.84 128.97 1568.82 128.43 1567.80 127.90C1566.58 127.27 1565.18 126.63 1563.90 126.00C1562.41 125.27 1560.97 124.53 1559.50 123.80C1558.03 123.07 1556.43 122.33 1555.05 121.60C1553.64 120.85 1552.34 120.10 1551.10 119.35C1549.89 118.62 1548.64 117.88 1547.65 117.15C1546.96 116.63 1546.38 116.12 1545.80 115.60C1545.05 114.93 1544.36 114.27 1543.70 113.60C1542.74 112.63 1541.73 111.67 1541.00 110.70C1540.12 109.53 1539.45 108.37 1538.80 107.20C1538.17 106.07 1537.63 104.93 1537.10 103.80C1536.57 102.67 1536.04 101.53 1535.60 100.40C1535.15 99.23 1534.80 98.07 1534.40 96.90C1534.07 95.93 1533.65 94.97 1533.40 94.00C1533.15 93.00 1533.00 92.00 1532.80 91.00C1532.63 90.13 1532.45 89.27 1532.30 88.40C1532.11 87.27 1531.95 86.13 1531.80 85.00C1531.65 83.90 1531.50 82.80 1531.40 81.70C1531.19 79.47 1530.99 77.23 1530.90 75.00C1530.83 73.33 1530.79 71.67 1530.75 70.00C1530.69 67.27 1530.65 64.53 1530.60 61.80C1530.55 58.53 1530.50 55.27 1530.45 52.00C1530.40 48.57 1530.35 45.13 1530.30 41.70Z" fill="#006400" stroke="#1e1e1e" stroke-width="1.05" stroke-linejoin="round"/>
<g stroke="#1a0a0a" stroke-width="1.3" fill="none">
<line x1="1530.30" y1="88.00" x2="1530.30" y2="125.90"/>
<line x1="1530.30" y1="150.50" x2="1530.30" y2="187.70"/>
<rect x="1519.30" y="125.90" width="22.00" height="24.60"/>
<line x1="1519.30" y1="135.80" x2="1541.30" y2="135.80"/>
</g>
<path d="M1667.30 39.40C1667.25 42.27 1667.20 45.13 1667.15 48.00C1667.10 50.93 1667.06 53.87 1667.00 56.80C1666.95 59.53 1666.88 62.27 1666.80 65.00C1666.75 66.73 1666.67 68.47 1666.60 70.20C1666.54 71.80 1666.49 73.40 1666.40 75.00C1666.28 77.23 1666.00 79.47 1665.80 81.70C1665.70 82.80 1665.62 83.90 1665.50 85.00C1665.37 86.13 1665.17 87.27 1665.00 88.40C1664.87 89.27 1664.72 90.13 1664.60 91.00C1664.46 92.00 1664.39 93.00 1664.20 94.00C1664.01 94.97 1663.55 95.93 1663.20 96.90C1662.78 98.07 1662.38 99.23 1661.90 100.40C1661.43 101.53 1660.89 102.67 1660.30 103.80C1659.71 104.93 1658.99 106.07 1658.30 107.20C1657.59 108.37 1657.01 109.53 1656.10 110.70C1655.35 111.67 1654.19 112.63 1653.20 113.60C1652.52 114.27 1651.82 114.93 1651.10 115.60C1650.72 115.95 1650.37 116.30 1649.95 116.65C1648.96 117.47 1647.79 118.28 1646.50 119.10C1645.34 119.83 1643.95 120.57 1642.55 121.30C1641.15 122.03 1639.57 122.77 1638.10 123.50C1636.63 124.23 1635.15 124.97 1633.70 125.70C1632.38 126.37 1631.07 127.03 1629.80 127.70C1628.78 128.23 1627.65 128.77 1626.80 129.30C1626.00 129.80 1625.10 130.30 1624.70 130.80C1624.32 131.27 1623.90 131.73 1623.90 132.20C1623.90 132.77 1624.64 133.33 1625.20 133.90C1625.86 134.57 1626.93 135.23 1628.10 135.90C1629.09 136.47 1630.53 137.03 1631.80 137.60C1633.22 138.23 1634.94 138.87 1636.20 139.50C1637.69 140.25 1638.97 141.00 1640.10 141.75C1641.43 142.63 1642.65 143.52 1643.60 144.40C1644.67 145.40 1645.60 146.40 1646.30 147.40C1646.91 148.27 1647.29 149.13 1647.80 150.00C1648.27 150.80 1648.73 151.60 1649.25 152.40C1650.00 153.57 1650.92 154.73 1651.70 155.90C1652.46 157.03 1653.26 158.17 1653.90 159.30C1654.54 160.43 1655.13 161.57 1655.60 162.70C1656.09 163.87 1656.43 165.03 1656.85 166.20C1657.26 167.33 1657.65 168.47 1658.10 169.60C1658.29 170.07 1658.52 170.53 1658.70 171.00C1659.22 172.33 1659.64 173.67 1660.10 175.00C1660.50 176.17 1660.94 177.33 1661.30 178.50C1661.74 179.93 1662.13 181.37 1662.50 182.80C1662.82 184.03 1663.15 185.27 1663.40 186.50C1663.68 187.87 1663.89 189.23 1664.10 190.60C1664.50 193.20 1664.87 195.80 1665.15 198.40C1665.43 201.02 1665.62 203.63 1665.85 206.25C1666.08 208.83 1666.38 211.42 1666.55 214.00C1666.72 216.63 1666.85 219.27 1666.95 221.90C1667.05 224.60 1667.14 227.30 1667.18 230.00C1667.22 232.67 1667.25 235.33 1667.26 238.00C1667.29 249.20 1667.30 260.40 1667.30 271.60L1667.30 271.60C1667.30 260.40 1667.31 249.20 1667.34 238.00C1667.35 235.33 1667.38 232.67 1667.42 230.00C1667.46 227.30 1667.55 224.60 1667.65 221.90C1667.75 219.27 1667.88 216.63 1668.05 214.00C1668.22 211.42 1668.52 208.83 1668.75 206.25C1668.98 203.63 1669.17 201.02 1669.45 198.40C1669.73 195.80 1670.10 193.20 1670.50 190.60C1670.71 189.23 1670.92 187.87 1671.20 186.50C1671.45 185.27 1671.78 184.03 1672.10 182.80C1672.47 181.37 1672.86 179.93 1673.30 178.50C1673.66 177.33 1674.10 176.17 1674.50 175.00C1674.96 173.67 1675.38 172.33 1675.90 171.00C1676.08 170.53 1676.31 170.07 1676.50 169.60C1676.95 168.47 1677.34 167.33 1677.75 166.20C1678.17 165.03 1678.51 163.87 1679.00 162.70C1679.47 161.57 1680.06 160.43 1680.70 159.30C1681.34 158.17 1682.14 157.03 1682.90 155.90C1683.68 154.73 1684.60 153.57 1685.35 152.40C1685.87 151.60 1686.33 150.80 1686.80 150.00C1687.31 149.13 1687.69 148.27 1688.30 147.40C1689.00 146.40 1689.93 145.40 1691.00 144.40C1691.95 143.52 1693.17 142.63 1694.50 141.75C1695.63 141.00 1696.91 140.25 1698.40 139.50C1699.66 138.87 1701.38 138.23 1702.80 137.60C1704.07 137.03 1705.51 136.47 1706.50 135.90C1707.67 135.23 1708.74 134.57 1709.40 133.90C1709.96 133.33 1710.70 132.77 1710.70 132.20C1710.70 131.73 1710.28 131.27 1709.90 130.80C1709.50 130.30 1708.60 129.80 1707.80 129.30C1706.95 128.77 1705.82 128.23 1704.80 127.70C1703.53 127.03 1702.22 126.37 1700.90 125.70C1699.45 124.97 1697.97 124.23 1696.50 123.50C1695.03 122.77 1693.45 122.03 1692.05 121.30C1690.65 120.57 1689.26 119.83 1688.10 119.10C1686.81 118.28 1685.64 117.47 1684.65 116.65C1684.23 116.30 1683.88 115.95 1683.50 115.60C1682.78 114.93 1682.08 114.27 1681.40 113.60C1680.41 112.63 1679.25 111.67 1678.50 110.70C1677.59 109.53 1677.01 108.37 1676.30 107.20C1675.61 106.07 1674.89 104.93 1674.30 103.80C1673.71 102.67 1673.17 101.53 1672.70 100.40C1672.22 99.23 1671.82 98.07 1671.40 96.90C1671.05 95.93 1670.59 94.97 1670.40 94.00C1670.21 93.00 1670.14 92.00 1670.00 91.00C1669.88 90.13 1669.73 89.27 1669.60 88.40C1669.43 87.27 1669.23 86.13 1669.10 85.00C1668.98 83.90 1668.90 82.80 1668.80 81.70C1668.60 79.47 1668.32 77.23 1668.20 75.00C1668.11 73.40 1668.06 71.80 1668.00 70.20C1667.93 68.47 1667.85 66.73 1667.80 65.00C1667.72 62.27 1667.65 59.53 1667.60 56.80C1667.54 53.87 1667.50 50.93 1667.45 48.00C1667.40 45.13 1667.35 42.27 1667.30 39.40Z" fill="#008000" stroke="#1e1e1e" stroke-width="1.05" stroke-linejoin="round"/>
<g stroke="#1a0a0a" stroke-width="1.3" fill="none">
<line x1="1667.30" y1="88.00" x2="1667.30" y2="125.60"/>
<line x1="1667.30" y1="150.80" x2="1667.30" y2="188.60"/>
<rect x="1656.30" y="125.60" width="22.00" height="25.20"/>
<line x1="1656.30" y1="135.40" x2="1678.30" y2="135.40"/>
</g>
<path d="M1804.50 34.40C1804.47 37.93 1804.43 41.47 1804.40 45.00C1804.37 48.33 1804.34 51.67 1804.30 55.00C1804.26 58.40 1804.18 61.80 1804.10 65.20C1804.06 66.80 1804.01 68.40 1803.95 70.00C1803.89 71.67 1803.81 73.33 1803.70 75.00C1803.56 77.23 1803.30 79.47 1803.10 81.70C1803.00 82.80 1802.92 83.90 1802.80 85.00C1802.67 86.13 1802.47 87.27 1802.30 88.40C1802.17 89.27 1802.04 90.13 1801.90 91.00C1801.73 92.00 1801.59 93.00 1801.35 94.00C1801.12 94.97 1800.74 95.93 1800.40 96.90C1799.99 98.07 1799.58 99.23 1799.10 100.40C1798.63 101.53 1798.08 102.67 1797.50 103.80C1796.92 104.93 1796.27 106.07 1795.60 107.20C1794.91 108.37 1794.32 109.53 1793.40 110.70C1792.64 111.67 1791.43 112.63 1790.40 113.60C1789.69 114.27 1789.08 114.93 1788.20 115.60C1787.85 115.87 1787.37 116.13 1786.95 116.40C1785.80 117.13 1784.73 117.87 1783.50 118.60C1782.27 119.33 1780.95 120.07 1779.55 120.80C1778.15 121.53 1776.65 122.27 1775.10 123.00C1773.69 123.67 1772.10 124.33 1770.70 125.00C1769.34 125.65 1767.98 126.30 1766.80 126.95C1765.74 127.53 1764.75 128.12 1763.90 128.70C1763.12 129.23 1762.15 129.77 1761.80 130.30C1761.45 130.83 1761.10 131.37 1761.10 131.90C1761.10 132.50 1762.00 133.10 1762.70 133.70C1763.43 134.33 1764.76 134.97 1765.90 135.60C1767.10 136.27 1768.48 136.93 1769.80 137.60C1771.25 138.33 1772.96 139.07 1774.20 139.80C1775.72 140.70 1776.92 141.60 1778.10 142.50C1779.36 143.47 1780.54 144.43 1781.55 145.40C1782.66 146.47 1783.68 147.53 1784.50 148.60C1785.11 149.40 1785.63 150.20 1786.10 151.00C1786.34 151.40 1786.52 151.80 1786.75 152.20C1787.41 153.33 1788.26 154.47 1788.95 155.60C1789.64 156.73 1790.34 157.87 1790.90 159.00C1791.47 160.17 1791.95 161.33 1792.40 162.50C1792.84 163.63 1793.24 164.77 1793.60 165.90C1793.96 167.03 1794.34 168.17 1794.60 169.30C1794.80 170.20 1794.88 171.10 1795.10 172.00C1795.50 173.63 1796.39 175.27 1797.00 176.90C1797.61 178.53 1798.26 180.17 1798.75 181.80C1799.24 183.43 1799.64 185.07 1800.00 186.70C1800.36 188.33 1800.74 189.97 1800.95 191.60C1801.05 192.40 1801.11 193.20 1801.20 194.00C1801.38 195.63 1801.59 197.27 1801.75 198.90C1801.91 200.53 1802.07 202.17 1802.20 203.80C1802.33 205.43 1802.43 207.07 1802.55 208.70C1802.67 210.33 1802.79 211.97 1802.90 213.60C1803.06 215.87 1803.23 218.13 1803.35 220.40C1803.51 223.27 1803.64 226.13 1803.75 229.00C1803.85 231.67 1803.92 234.33 1804.00 237.00C1804.08 239.67 1804.19 242.33 1804.25 245.00C1804.32 248.33 1804.41 251.67 1804.42 255.00C1804.48 277.87 1804.50 300.73 1804.50 323.60L1804.50 323.60C1804.50 300.73 1804.52 277.87 1804.58 255.00C1804.59 251.67 1804.68 248.33 1804.75 245.00C1804.81 242.33 1804.92 239.67 1805.00 237.00C1805.08 234.33 1805.15 231.67 1805.25 229.00C1805.36 226.13 1805.49 223.27 1805.65 220.40C1805.77 218.13 1805.94 215.87 1806.10 213.60C1806.21 211.97 1806.33 210.33 1806.45 208.70C1806.57 207.07 1806.67 205.43 1806.80 203.80C1806.93 202.17 1807.09 200.53 1807.25 198.90C1807.41 197.27 1807.62 195.63 1807.80 194.00C1807.89 193.20 1807.95 192.40 1808.05 191.60C1808.26 189.97 1808.64 188.33 1809.00 186.70C1809.36 185.07 1809.76 183.43 1810.25 181.80C1810.74 180.17 1811.39 178.53 1812.00 176.90C1812.61 175.27 1813.50 173.63 1813.90 172.00C1814.12 171.10 1814.20 170.20 1814.40 169.30C1814.66 168.17 1815.04 167.03 1815.40 165.90C1815.76 164.77 1816.16 163.63 1816.60 162.50C1817.05 161.33 1817.53 160.17 1818.10 159.00C1818.66 157.87 1819.36 156.73 1820.05 155.60C1820.74 154.47 1821.59 153.33 1822.25 152.20C1822.48 151.80 1822.66 151.40 1822.90 151.00C1823.37 150.20 1823.89 149.40 1824.50 148.60C1825.32 147.53 1826.34 146.47 1827.45 145.40C1828.46 144.43 1829.64 143.47 1830.90 142.50C1832.08 141.60 1833.28 140.70 1834.80 139.80C1836.04 139.07 1837.75 138.33 1839.20 137.60C1840.52 136.93 1841.90 136.27 1843.10 135.60C1844.24 134.97 1845.57 134.33 1846.30 133.70C1847.00 133.10 1847.90 132.50 1847.90 131.90C1847.90 131.37 1847.55 130.83 1847.20 130.30C1846.85 129.77 1845.88 129.23 1845.10 128.70C1844.25 128.12 1843.26 127.53 1842.20 126.95C1841.02 126.30 1839.66 125.65 1838.30 125.00C1836.90 124.33 1835.31 123.67 1833.90 123.00C1832.35 122.27 1830.85 121.53 1829.45 120.80C1828.05 120.07 1826.73 119.33 1825.50 118.60C1824.27 117.87 1823.20 117.13 1822.05 116.40C1821.63 116.13 1821.15 115.87 1820.80 115.60C1819.92 114.93 1819.31 114.27 1818.60 113.60C1817.57 112.63 1816.36 111.67 1815.60 110.70C1814.68 109.53 1814.09 108.37 1813.40 107.20C1812.73 106.07 1812.08 104.93 1811.50 103.80C1810.92 102.67 1810.37 101.53 1809.90 100.40C1809.42 99.23 1809.01 98.07 1808.60 96.90C1808.26 95.93 1807.88 94.97 1807.65 94.00C1807.41 93.00 1807.27 92.00 1807.10 91.00C1806.96 90.13 1806.83 89.27 1806.70 88.40C1806.53 87.27 1806.33 86.13 1806.20 85.00C1806.08 83.90 1806.00 82.80 1805.90 81.70C1805.70 79.47 1805.44 77.23 1805.30 75.00C1805.19 73.33 1805.11 71.67 1805.05 70.00C1804.99 68.40 1804.94 66.80 1804.90 65.20C1804.82 61.80 1804.74 58.40 1804.70 55.00C1804.66 51.67 1804.63 48.33 1804.60 45.00C1804.57 41.47 1804.53 37.93 1804.50 34.40Z" fill="#ffff00" stroke="#1e1e1e" stroke-width="1.05" stroke-linejoin="round"/>
<g stroke="#1a0a0a" stroke-width="1.3" fill="none">
<line x1="1804.50" y1="86.40" x2="1804.50" y2="125.60"/>
<line x1="1804.50" y1="152.10" x2="1804.50" y2="191.40"/>
<rect x="1793.50" y="125.60" width="22.00" height="26.50"/>
<line x1="1793.50" y1="135.40" x2="1815.50" y2="135.40"/>
</g>
<g stroke="#262626" fill="none">
<line stroke-width="2" x1="1050.10" y1="19.20" x2="1050.10" y2="341.30"/>
<line stroke-width="1.7" x1="1049.10" y1="340.45" x2="1872.70" y2="340.45"/>
</g>
<g stroke="#3a3a3a" stroke-width="1.7" fill="none">
<line x1="1119.05" y1="340.45" x2="1119.05" y2="348.65"/>
<line x1="1256.14" y1="340.45" x2="1256.14" y2="348.65"/>
<line x1="1393.23" y1="340.45" x2="1393.23" y2="348.65"/>
<line x1="1530.32" y1="340.45" x2="1530.32" y2="348.65"/>
<line x1="1667.41" y1="340.45" x2="1667.41" y2="348.65"/>
<line x1="1804.50" y1="340.45" x2="1804.50" y2="348.65"/>
<line x1="1041.90" y1="51.85" x2="1050.10" y2="51.85"/>
<line x1="1041.90" y1="121.65" x2="1050.10" y2="121.65"/>
<line x1="1041.90" y1="191.45" x2="1050.10" y2="191.45"/>
<line x1="1041.90" y1="261.25" x2="1050.10" y2="261.25"/>
<line x1="1041.90" y1="331.05" x2="1050.10" y2="331.05"/>
</g>
<text class="tk" transform="translate(1119.05 384) scale(1 1.080)" text-anchor="middle">0</text>
<text class="tk" transform="translate(1256.14 384) scale(1 1.080)" text-anchor="middle">10</text>
<text class="tk" transform="translate(1393.23 384) scale(1 1.080)" text-anchor="middle">15</text>
<text class="tk" transform="translate(1530.32 384) scale(1 1.080)" text-anchor="middle">20</text>
<text class="tk" transform="translate(1667.41 384) scale(1 1.080)" text-anchor="middle">25</text>
<text class="tk" transform="translate(1804.50 384) scale(1 1.080)" text-anchor="middle">30</text>
<text class="tk" transform="translate(1036.60 62.25) scale(1 1.080)" text-anchor="end">100</text>
<text class="tk" transform="translate(1036.60 132.05) scale(1 1.080)" text-anchor="end">0</text>
<text class="tk" transform="translate(1036.60 201.85) scale(1 1.080)" text-anchor="end">−100</text>
<text class="tk" transform="translate(1036.60 271.65) scale(1 1.080)" text-anchor="end">−200</text>
<text class="tk" transform="translate(1036.60 341.45) scale(1 1.080)" text-anchor="end">−300</text>
<g aria-label="TI(%)"><text class="lb" transform="translate(1418.74 422.60) scale(1.177 1)" font-size="25.50px" font-style="italic">T</text><text class="lb" transform="translate(1438.42 422.60) scale(1.158 1)" font-size="25.50px" font-style="italic">I</text><text class="lb" transform="translate(1451.01 423.05) scale(0.858 1)" font-size="27.46px">(</text><text class="lb" transform="translate(1459.38 423.72) scale(0.846 1)" font-size="28.46px">%</text><text class="lb" transform="translate(1479.51 423.05) scale(0.893 1)" font-size="27.46px">)</text></g>
<g aria-label="zICR(m)"><text class="lb" transform="translate(944.20 232.08) rotate(-90) scale(1.106 1)" font-size="25.93px" font-style="italic">z</text><text class="lb" transform="translate(946.60 222.31) rotate(-90) scale(1.362 1)" font-size="16.80px" font-style="italic">I</text><text class="lb" transform="translate(947.23 214.00) rotate(-90) scale(1.065 1)" font-size="18.62px" font-style="italic">C</text><text class="lb" transform="translate(947.40 199.98) rotate(-90) scale(1.145 1)" font-size="18.78px" font-style="italic">R</text><text class="lb" transform="translate(943.37 184.10) rotate(-90) scale(0.941 1)" font-size="26.47px">(</text><text class="lb" transform="translate(944.00 175.67) rotate(-90) scale(1.252 1)" font-size="23.56px" font-style="italic">m</text><text class="lb" transform="translate(943.37 153.14) rotate(-90) scale(0.986 1)" font-size="26.47px">)</text></g>
</svg></body></html>
